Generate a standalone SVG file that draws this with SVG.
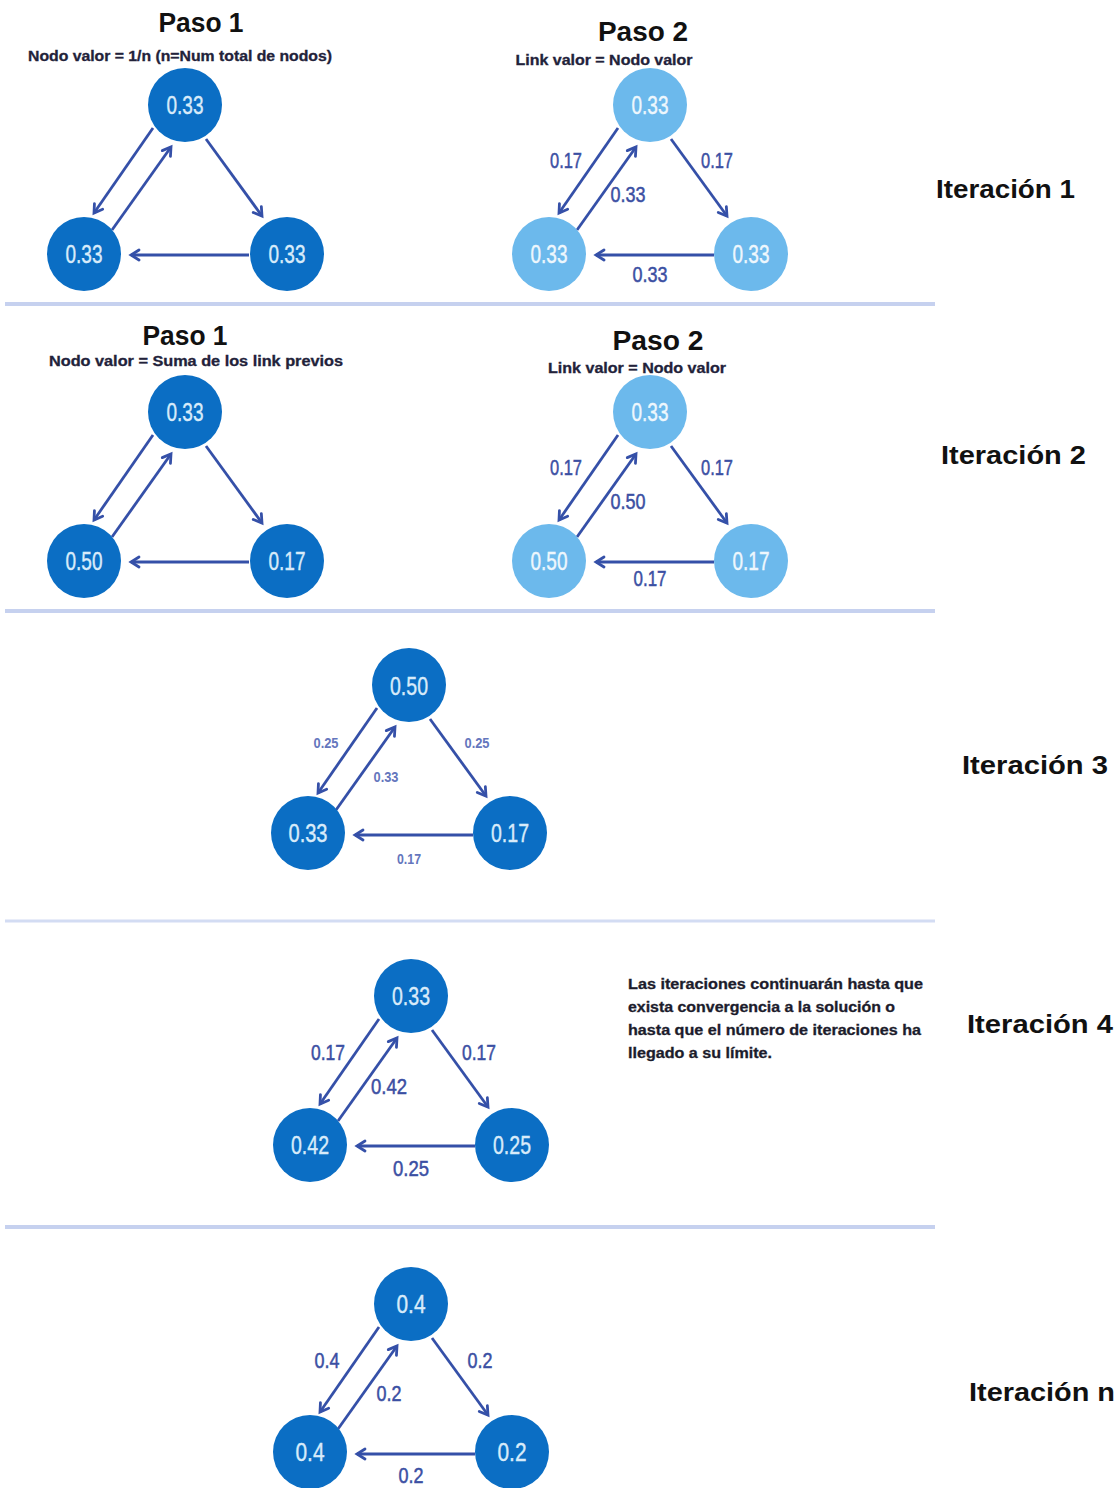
<svg xmlns="http://www.w3.org/2000/svg" width="1119" height="1488" viewBox="0 0 1119 1488">
  <defs>
    <marker id="head" markerUnits="userSpaceOnUse" markerWidth="14" markerHeight="14" viewBox="-10 -7 12 14" refX="0" refY="0" orient="auto">
      <path d="M-8,-5 L0,0 L-8,5" fill="none" stroke="#3550a8" stroke-width="2.8" stroke-linecap="round" stroke-linejoin="miter"/>
    </marker>
    <style>
      .bg { fill: #ffffff; }
      .sep { stroke: #c6d1ef; stroke-width: 4; }
      .sep-thin { stroke: #d3dcf3; stroke-width: 3; }
      .title { font-family: "Liberation Sans", Arial, sans-serif; font-weight: bold; font-size: 27px; fill: #111111; text-anchor: middle; }
      .sub { font-family: "Liberation Sans", Arial, sans-serif; font-weight: bold; font-size: 14px; fill: #22223a; text-anchor: middle; stroke: #22223a; stroke-width: 0.3; }
      .iter { font-family: "Liberation Sans", Arial, sans-serif; font-weight: bold; font-size: 25px; fill: #111111; }
      .note { font-family: "Liberation Sans", Arial, sans-serif; font-weight: bold; font-size: 14px; fill: #1c1c2c; stroke: #1c1c2c; stroke-width: 0.3; }
      .dark { fill: #0b6ec4; }
      .light { fill: #6cb9ec; }
      .nv { font-family: "Liberation Sans", Arial, sans-serif; font-size: 25px; fill: #d8ebfa; stroke: #d8ebfa; stroke-width: 0.4; text-anchor: middle; dominant-baseline: central; }
      .nv-l { font-family: "Liberation Sans", Arial, sans-serif; font-size: 25px; fill: #eef7fd; stroke: #eef7fd; stroke-width: 0.4; text-anchor: middle; dominant-baseline: central; }
      .edge { fill: none; stroke: #3550a8; stroke-width: 2.8; marker-end: url(#head); }
      .el { font-family: "Liberation Sans", Arial, sans-serif; font-size: 22px; fill: #3b4fa3; stroke: #3b4fa3; stroke-width: 0.5; text-anchor: middle; dominant-baseline: central; }
      .el-s { font-family: "Liberation Sans", Arial, sans-serif; font-weight: bold; font-size: 14px; fill: #6476bd; text-anchor: middle; dominant-baseline: central; }
    </style>
  </defs>

  <rect class="bg" x="0" y="0" width="1119" height="1488"/>

  <!-- section dividers -->
  <g id="dividers">
    <line class="sep" x1="5" y1="304" x2="935" y2="304"/>
    <line class="sep" x1="5" y1="611" x2="935" y2="611"/>
    <line class="sep-thin" x1="5" y1="921" x2="935" y2="921"/>
    <line class="sep" x1="5" y1="1227" x2="935" y2="1227"/>
  </g>

  <!-- headings -->
  <g id="headings">
    <text class="title" x="201" y="32" textLength="85" lengthAdjust="spacingAndGlyphs">Paso 1</text>
    <text class="sub" x="180" y="61" textLength="304" lengthAdjust="spacingAndGlyphs">Nodo valor = 1/n (n=Num total de nodos)</text>
    <text class="title" x="643" y="41" textLength="90" lengthAdjust="spacingAndGlyphs">Paso 2</text>
    <text class="sub" x="604" y="65" textLength="177" lengthAdjust="spacingAndGlyphs">Link valor = Nodo valor</text>

    <text class="title" x="185" y="345" textLength="85" lengthAdjust="spacingAndGlyphs">Paso 1</text>
    <text class="sub" x="196" y="366" textLength="294" lengthAdjust="spacingAndGlyphs">Nodo valor =  Suma de los link previos</text>
    <text class="title" x="658" y="350" textLength="91" lengthAdjust="spacingAndGlyphs">Paso 2</text>
    <text class="sub" x="637" y="373" textLength="178" lengthAdjust="spacingAndGlyphs">Link valor = Nodo valor</text>
  </g>

  <!-- iteration labels -->
  <g id="iteration-labels">
    <text class="iter" x="936" y="198" textLength="139" lengthAdjust="spacingAndGlyphs">Iteración 1</text>
    <text class="iter" x="941" y="464" textLength="145" lengthAdjust="spacingAndGlyphs">Iteración 2</text>
    <text class="iter" x="962" y="774" textLength="146" lengthAdjust="spacingAndGlyphs">Iteración 3</text>
    <text class="iter" x="967" y="1033" textLength="146" lengthAdjust="spacingAndGlyphs">Iteración 4</text>
    <text class="iter" x="969" y="1401" textLength="146" lengthAdjust="spacingAndGlyphs">Iteración n</text>
  </g>

  <!-- convergence note -->
  <g id="note">
    <text class="note" x="628" y="989" textLength="295" lengthAdjust="spacingAndGlyphs">Las iteraciones  continuarán hasta que</text>
    <text class="note" x="628" y="1012" textLength="267" lengthAdjust="spacingAndGlyphs">exista convergencia a la solución o</text>
    <text class="note" x="628" y="1035" textLength="293" lengthAdjust="spacingAndGlyphs">hasta que el número de iteraciones ha</text>
    <text class="note" x="628" y="1058" textLength="144" lengthAdjust="spacingAndGlyphs">llegado a su límite.</text>
  </g>

  <!-- connectors -->
  <g id="connectors">
    <!-- A: top (185,105) -->
    <path class="edge" d="M153,128 L94,213"/>
    <path class="edge" d="M112,230 L171,147"/>
    <path class="edge" d="M206,139 L262,216"/>
    <path class="edge" d="M249,255 L131,255"/>
    <!-- B: top (650,105) -->
    <path class="edge" d="M618,128 L559,213"/>
    <path class="edge" d="M577,230 L636,147"/>
    <path class="edge" d="M671,139 L727,216"/>
    <path class="edge" d="M714,255 L596,255"/>
    <!-- C: top (185,412) -->
    <path class="edge" d="M153,435 L94,520"/>
    <path class="edge" d="M112,537 L171,454"/>
    <path class="edge" d="M206,446 L262,523"/>
    <path class="edge" d="M249,562 L131,562"/>
    <!-- D: top (650,412) -->
    <path class="edge" d="M618,435 L559,520"/>
    <path class="edge" d="M577,537 L636,454"/>
    <path class="edge" d="M671,446 L727,523"/>
    <path class="edge" d="M714,562 L596,562"/>
    <!-- E: top (409,685) -->
    <path class="edge" d="M377,708 L318,793"/>
    <path class="edge" d="M336,810 L395,727"/>
    <path class="edge" d="M430,719 L486,796"/>
    <path class="edge" d="M473,835 L355,835"/>
    <!-- F: top (411,996) -->
    <path class="edge" d="M379,1019 L320,1104"/>
    <path class="edge" d="M338,1121 L397,1038"/>
    <path class="edge" d="M432,1030 L488,1107"/>
    <path class="edge" d="M475,1146 L357,1146"/>
    <!-- G: top (411,1304) -->
    <path class="edge" d="M379,1327 L320,1412"/>
    <path class="edge" d="M338,1429 L397,1346"/>
    <path class="edge" d="M432,1338 L488,1415"/>
    <path class="edge" d="M475,1454 L357,1454"/>
  </g>

  <!-- link values -->
  <g id="link-labels">
    <text class="el" x="566" y="160" textLength="32" lengthAdjust="spacingAndGlyphs">0.17</text>
    <text class="el" x="717" y="160" textLength="32" lengthAdjust="spacingAndGlyphs">0.17</text>
    <text class="el" x="628" y="194" textLength="35" lengthAdjust="spacingAndGlyphs">0.33</text>
    <text class="el" x="650" y="274" textLength="35" lengthAdjust="spacingAndGlyphs">0.33</text>

    <text class="el" x="566" y="467" textLength="32" lengthAdjust="spacingAndGlyphs">0.17</text>
    <text class="el" x="717" y="467" textLength="32" lengthAdjust="spacingAndGlyphs">0.17</text>
    <text class="el" x="628" y="501" textLength="35" lengthAdjust="spacingAndGlyphs">0.50</text>
    <text class="el" x="650" y="578" textLength="33" lengthAdjust="spacingAndGlyphs">0.17</text>

    <text class="el-s" x="326" y="743" textLength="25" lengthAdjust="spacingAndGlyphs">0.25</text>
    <text class="el-s" x="477" y="743" textLength="25" lengthAdjust="spacingAndGlyphs">0.25</text>
    <text class="el-s" x="386" y="777" textLength="25" lengthAdjust="spacingAndGlyphs">0.33</text>
    <text class="el-s" x="409" y="859" textLength="24" lengthAdjust="spacingAndGlyphs">0.17</text>

    <text class="el" x="328" y="1052" textLength="34" lengthAdjust="spacingAndGlyphs">0.17</text>
    <text class="el" x="479" y="1052" textLength="34" lengthAdjust="spacingAndGlyphs">0.17</text>
    <text class="el" x="389" y="1086" textLength="36" lengthAdjust="spacingAndGlyphs">0.42</text>
    <text class="el" x="411" y="1168" textLength="36" lengthAdjust="spacingAndGlyphs">0.25</text>

    <text class="el" x="327" y="1360" textLength="25" lengthAdjust="spacingAndGlyphs">0.4</text>
    <text class="el" x="480" y="1360" textLength="25" lengthAdjust="spacingAndGlyphs">0.2</text>
    <text class="el" x="389" y="1393" textLength="25" lengthAdjust="spacingAndGlyphs">0.2</text>
    <text class="el" x="411" y="1475" textLength="25" lengthAdjust="spacingAndGlyphs">0.2</text>
  </g>

  <!-- nodes: iteration 1, paso 1 -->
  <g id="a-top"><circle class="dark" cx="185" cy="105" r="37"/><text class="nv" x="185" y="105" textLength="37" lengthAdjust="spacingAndGlyphs">0.33</text></g>
  <g id="a-left"><circle class="dark" cx="84" cy="254" r="37"/><text class="nv" x="84" y="254" textLength="37" lengthAdjust="spacingAndGlyphs">0.33</text></g>
  <g id="a-right"><circle class="dark" cx="287" cy="254" r="37"/><text class="nv" x="287" y="254" textLength="37" lengthAdjust="spacingAndGlyphs">0.33</text></g>

  <!-- nodes: iteration 1, paso 2 -->
  <g id="b-top"><circle class="light" cx="650" cy="105" r="37"/><text class="nv-l" x="650" y="105" textLength="37" lengthAdjust="spacingAndGlyphs">0.33</text></g>
  <g id="b-left"><circle class="light" cx="549" cy="254" r="37"/><text class="nv-l" x="549" y="254" textLength="37" lengthAdjust="spacingAndGlyphs">0.33</text></g>
  <g id="b-right"><circle class="light" cx="751" cy="254" r="37"/><text class="nv-l" x="751" y="254" textLength="37" lengthAdjust="spacingAndGlyphs">0.33</text></g>

  <!-- nodes: iteration 2, paso 1 -->
  <g id="c-top"><circle class="dark" cx="185" cy="412" r="37"/><text class="nv" x="185" y="412" textLength="37" lengthAdjust="spacingAndGlyphs">0.33</text></g>
  <g id="c-left"><circle class="dark" cx="84" cy="561" r="37"/><text class="nv" x="84" y="561" textLength="37" lengthAdjust="spacingAndGlyphs">0.50</text></g>
  <g id="c-right"><circle class="dark" cx="287" cy="561" r="37"/><text class="nv" x="287" y="561" textLength="37" lengthAdjust="spacingAndGlyphs">0.17</text></g>

  <!-- nodes: iteration 2, paso 2 -->
  <g id="d-top"><circle class="light" cx="650" cy="412" r="37"/><text class="nv-l" x="650" y="412" textLength="37" lengthAdjust="spacingAndGlyphs">0.33</text></g>
  <g id="d-left"><circle class="light" cx="549" cy="561" r="37"/><text class="nv-l" x="549" y="561" textLength="37" lengthAdjust="spacingAndGlyphs">0.50</text></g>
  <g id="d-right"><circle class="light" cx="751" cy="561" r="37"/><text class="nv-l" x="751" y="561" textLength="37" lengthAdjust="spacingAndGlyphs">0.17</text></g>

  <!-- nodes: iteration 3 -->
  <g id="e-top"><circle class="dark" cx="409" cy="685" r="37"/><text class="nv" x="409" y="686" textLength="38" lengthAdjust="spacingAndGlyphs">0.50</text></g>
  <g id="e-left"><circle class="dark" cx="308" cy="833" r="37"/><text class="nv" x="308" y="833" textLength="39" lengthAdjust="spacingAndGlyphs">0.33</text></g>
  <g id="e-right"><circle class="dark" cx="510" cy="833" r="37"/><text class="nv" x="510" y="833" textLength="38" lengthAdjust="spacingAndGlyphs">0.17</text></g>

  <!-- nodes: iteration 4 -->
  <g id="f-top"><circle class="dark" cx="411" cy="996" r="37"/><text class="nv" x="411" y="996" textLength="38" lengthAdjust="spacingAndGlyphs">0.33</text></g>
  <g id="f-left"><circle class="dark" cx="310" cy="1145" r="37"/><text class="nv" x="310" y="1145" textLength="38" lengthAdjust="spacingAndGlyphs">0.42</text></g>
  <g id="f-right"><circle class="dark" cx="512" cy="1145" r="37"/><text class="nv" x="512" y="1145" textLength="38" lengthAdjust="spacingAndGlyphs">0.25</text></g>

  <!-- nodes: iteration n -->
  <g id="g-top"><circle class="dark" cx="411" cy="1304" r="37"/><text class="nv" x="411" y="1304" textLength="29" lengthAdjust="spacingAndGlyphs">0.4</text></g>
  <g id="g-left"><circle class="dark" cx="310" cy="1452" r="37"/><text class="nv" x="310" y="1452" textLength="29" lengthAdjust="spacingAndGlyphs">0.4</text></g>
  <g id="g-right"><circle class="dark" cx="512" cy="1452" r="37"/><text class="nv" x="512" y="1452" textLength="29" lengthAdjust="spacingAndGlyphs">0.2</text></g>
</svg>
